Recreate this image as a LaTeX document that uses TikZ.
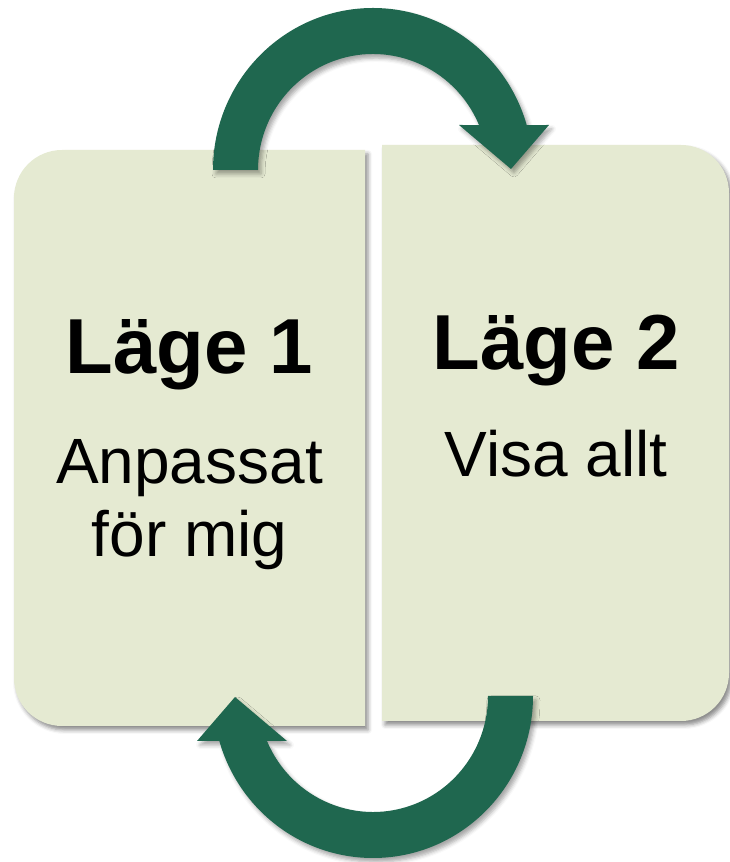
\documentclass[tikz,border=0pt]{standalone}
\usepackage{fontspec}
\setmainfont{Liberation Sans}
\usetikzlibrary{shadows.blur}
\definecolor{panelc}{HTML}{E5EAD2}
\definecolor{arrowc}{HTML}{1F674F}
\tikzset{
  panel/.style={fill=panelc, blur shadow={shadow xshift=3pt, shadow yshift=-4pt, shadow blur radius=4pt, shadow opacity=45}},
  bigarrow/.style={fill=arrowc, blur shadow={shadow xshift=3pt, shadow yshift=-4pt, shadow blur radius=4pt, shadow opacity=35}},
  title/.style={anchor=base, inner sep=0pt, font=\fontsize{78}{90}\selectfont\bfseries},
  body/.style={anchor=base, inner sep=0pt, align=center, font=\fontsize{64}{73}\selectfont}
}
\begin{document}
\begin{tikzpicture}[x=1pt,y=1pt]
\useasboundingbox (0,0) rectangle (730,862);
% panels
\path[panel] (365,136) -- (365,712) -- (62,712) arc[start angle=90,end angle=180,radius=48pt] -- (14,184) arc[start angle=180,end angle=270,radius=48pt] -- cycle;
\path[panel] (382,141) -- (382,717) -- (681,717) arc[start angle=90,end angle=0,radius=48pt] -- (729,189) arc[start angle=0,end angle=-90,radius=48pt] -- cycle;
% top arrow
\path[bigarrow] (213,692) arc[start angle=180,end angle=16.1,x radius=160pt,y radius=162pt] -- (549,737) -- (511,693) -- (459,737) -- ([shift={(373,692)}]22.8:115pt and 116pt) arc[start angle=22.8,end angle=180,x radius=115pt,y radius=116pt] -- cycle;
% bottom arrow
\path[bigarrow] (533,166) arc[start angle=0,end angle=-163.9,x radius=160pt,y radius=162pt] -- (197,121) -- (235,165) -- (287,121) -- ([shift={(373,166)}]-157.2:115pt and 116pt) arc[start angle=-157.2,end angle=0,x radius=115pt,y radius=116pt] -- cycle;
% texts
\node[title] (t1) at (189.5,488) {Läge 1};
\node[body] (b1) at (189.5,305) {Anpassat\\för mig};
\node[title] (t2) at (556,492) {Läge 2};
\node[body] (b2) at (556,385) {Visa allt};
\end{tikzpicture}
\end{document}
